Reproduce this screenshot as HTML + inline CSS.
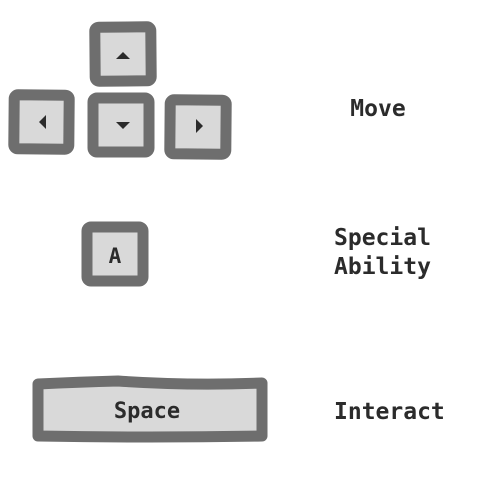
<!DOCTYPE html>
<html><head><meta charset="utf-8"><style>
html,body{margin:0;padding:0;background:#fff;}
svg{display:block;}
text{font-family:"DejaVu Sans Mono","Liberation Mono",monospace;font-weight:bold;fill:#2b2b2b;}
</style></head><body>
<svg width="500" height="500" viewBox="0 0 500 500">
  <g>
    <rect x="95" y="27" width="56" height="54" rx="4" fill="#d9d9d9" stroke="#6e6e6e" stroke-width="11" transform="rotate(-0.5 123 54)"/>
    <polygon points="116,59 130,59 123,52" fill="#2b2b2b"/>
  </g>
  <g>
    <rect x="14" y="95" width="55" height="54" rx="4" fill="#d9d9d9" stroke="#6e6e6e" stroke-width="11" transform="rotate(0.5 41 122)"/>
    <polygon points="46,115 46,129 39,122" fill="#2b2b2b"/>
  </g>
  <g>
    <rect x="93" y="98" width="56" height="54" rx="4" fill="#d9d9d9" stroke="#6e6e6e" stroke-width="11"/>
    <polygon points="116,122 130,122 123,129" fill="#2b2b2b"/>
  </g>
  <g>
    <rect x="170" y="100" width="56" height="54" rx="4" fill="#d9d9d9" stroke="#6e6e6e" stroke-width="11" transform="rotate(0.5 198 127)"/>
    <polygon points="196,119 196,133 203,126" fill="#2b2b2b"/>
  </g>
  <text x="378" y="116" font-size="23" text-anchor="middle">Move</text>

  <g>
    <rect x="87" y="227" width="56" height="54" rx="4" fill="#d9d9d9" stroke="#6e6e6e" stroke-width="11"/>
    <text x="115" y="263" font-size="21" text-anchor="middle">A</text>
  </g>
  <text x="334" y="245" font-size="23">Special</text>
  <text x="334" y="274" font-size="23">Ability</text>

  <g>
    <path d="M38,384 Q80,382 118,381 Q190,386 262,383 L262,436 Q150,438 38,436 Z" fill="#d9d9d9" stroke="#6e6e6e" stroke-width="11" stroke-linejoin="round"/>
    <text x="147" y="418" font-size="22" text-anchor="middle" font-weight="normal">Space</text>
  </g>
  <text x="334" y="419" font-size="23">Interact</text>
</svg>
</body></html>
